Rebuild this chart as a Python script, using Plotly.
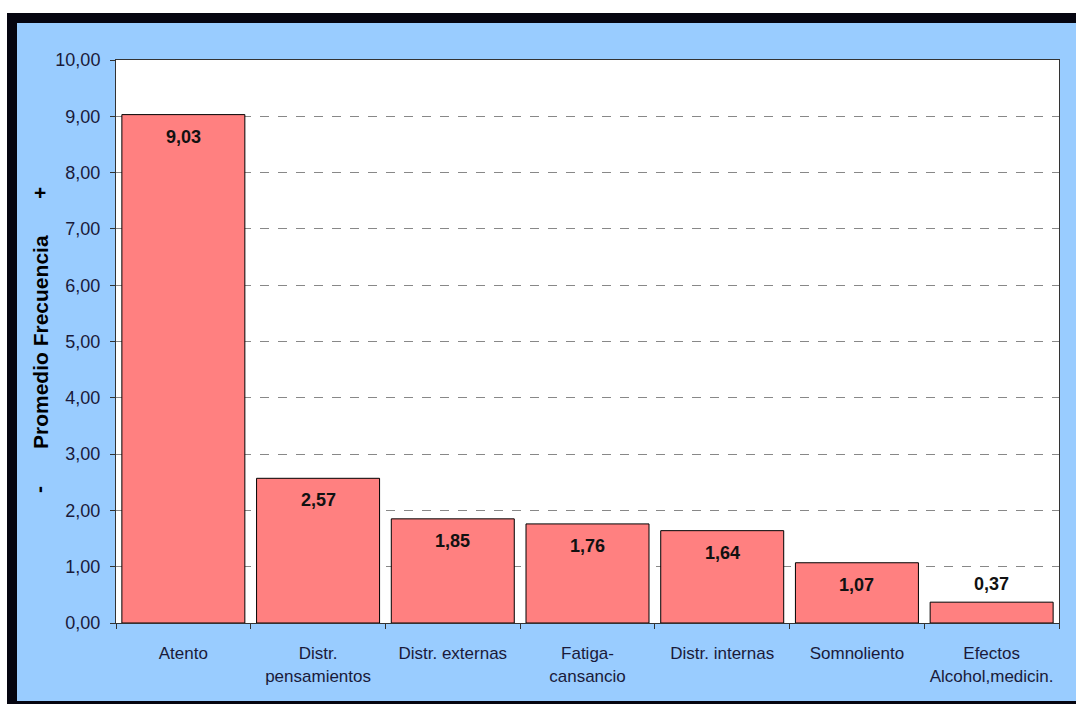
import plotly.graph_objects as go

categories = ["Atento", "Distr.<br>pensamientos", "Distr. externas", "Fatiga-<br>cansancio",
              "Distr. internas", "Somnoliento", "Efectos<br>Alcohol,medicin."]
values = [9.03, 2.57, 1.85, 1.76, 1.64, 1.07, 0.37]
y_ticks = [0, 1, 2, 3, 4, 5, 6, 7, 8, 9, 10]
y_tick_labels = [f"{v:.2f}".replace(".", ",") for v in y_ticks]

W, H = 1076, 704
L, R, T, B = 116, 17, 60, 81
PW, PH = W - L - R, H - T - B

def px(x):
    return (x - L) / PW

def py(y):
    return (H - B - y) / PH

ink = "#1a1a3a"
FONT = "Liberation Sans, Arial"

fig = go.Figure(go.Bar(
    x=categories, y=values,
    marker=dict(color="#ff8080", line=dict(color="#000000", width=1)),
    hoverinfo="skip",
))

# value labels: inside near the top for tall bars, above the bar for the short one
annotations = []
for c, v in zip(categories, values):
    inside = v > 0.8
    annotations.append(dict(
        x=c, y=v, xref="x", yref="y",
        text=f"<b>{v:.2f}</b>".replace(".", ","),
        showarrow=False, yshift=-22 if inside else 18,
        font=dict(family=FONT, size=18, color="#111111"),
    ))

# rotated axis title with the - and + markers
title_font = dict(family=FONT, size=21, color="#000000")
annotations += [
    dict(x=px(40), y=py(342), xref="paper", yref="paper", text="<b>Promedio Frecuencia</b>",
         textangle=-90, showarrow=False, xanchor="center", yanchor="middle", font=title_font),
    dict(x=px(40), y=py(192), xref="paper", yref="paper", text="<b>+</b>",
         showarrow=False, xanchor="center", yanchor="middle", font=title_font),
    dict(x=px(38), y=py(490), xref="paper", yref="paper", text="<b>-</b>", textangle=-90,
         showarrow=False, xanchor="center", yanchor="middle", font=title_font),
]

# frame around the chart
shapes = [
    dict(type="rect", xref="paper", yref="paper", x0=px(0), x1=px(W), y0=py(0), y1=py(13),
         fillcolor="#ffffff", line=dict(width=0), layer="below"),
    dict(type="rect", xref="paper", yref="paper", x0=px(0), x1=px(7), y0=py(0), y1=py(H),
         fillcolor="#ffffff", line=dict(width=0), layer="below"),
    dict(type="rect", xref="paper", yref="paper", x0=px(7), x1=px(W), y0=py(13), y1=py(23),
         fillcolor="#050510", line=dict(width=0), layer="below"),
    dict(type="rect", xref="paper", yref="paper", x0=px(7), x1=px(17), y0=py(13), y1=py(H),
         fillcolor="#050510", line=dict(width=0), layer="below"),
    dict(type="rect", xref="paper", yref="paper", x0=px(7), x1=px(W), y0=py(701), y1=py(H),
         fillcolor="#050510", line=dict(width=0), layer="below"),
]

fig.update_layout(
    width=W, height=H,
    margin=dict(l=L, r=R, t=T, b=B, autoexpand=False),
    paper_bgcolor="#99ccff",
    plot_bgcolor="#ffffff",
    bargap=0.087,
    showlegend=False,
    annotations=annotations,
    shapes=shapes,
    font=dict(family=FONT, size=17, color=ink),
    xaxis=dict(
        tickson="boundaries", ticks="outside", ticklen=5, tickcolor="#333333",
        showline=True, linecolor="#333333", linewidth=1, mirror=True,
        showgrid=False, tickfont=dict(family=FONT, size=17, color=ink),
        tickangle=0, automargin=False, ticklabelstandoff=15,
    ),
    yaxis=dict(
        range=[0, 10], tickvals=y_ticks, ticktext=y_tick_labels,
        ticks="outside", ticklen=5, tickcolor="#333333",
        showline=True, linecolor="#333333", linewidth=1, mirror=True,
        showgrid=True, gridcolor="#888888", griddash="dash", gridwidth=1,
        zeroline=False, tickfont=dict(family=FONT, size=18, color=ink),
        automargin=False, ticklabelstandoff=6,
    ),
)

fig.write_html("out.html")
